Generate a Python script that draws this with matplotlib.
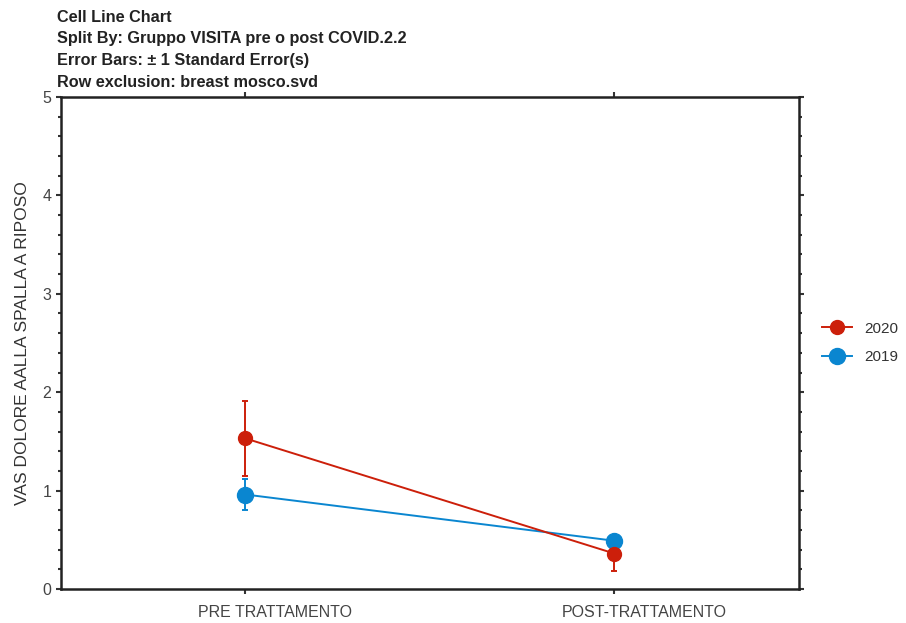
import matplotlib
matplotlib.use("Agg")
import matplotlib.pyplot as plt
from matplotlib.ticker import MultipleLocator
from matplotlib.lines import Line2D
from matplotlib.transforms import ScaledTranslation

plt.rcParams['font.family'] = ['Liberation Sans', 'DejaVu Sans']

categories = ["PRE TRATTAMENTO", "POST-TRATTAMENTO"]
groups = ["2020", "2019"]
means_2020 = [1.53, 0.36]
se_2020 = [0.38, 0.18]
means_2019 = [0.96, 0.49]
se_2019 = [0.16, 0.04]

colors = {"2020": "#cc1f0a", "2019": "#0a86d0"}
sizes = {"2020": 10, "2019": 11.5}

fig = plt.figure(figsize=(9.06, 6.23), dpi=100)
ax = fig.add_axes([0.0673, 0.0546, 0.8146, 0.7897])

xpos = [0.25, 0.75]
series = {"2020": (means_2020, se_2020), "2019": (means_2019, se_2019)}
# 2019 underneath, 2020 on top
for g in ["2019", "2020"]:
    m, s = series[g]
    ax.errorbar(xpos, m, yerr=s, color=colors[g], marker="o", markersize=sizes[g],
                linewidth=1.4, elinewidth=1.4, capsize=2.5, capthick=1.4)

ax.set_xlim(0, 1)
ax.set_ylim(0, 5)
ax.set_xticks(xpos)
ax.set_xticklabels(categories)
ax.yaxis.set_major_locator(MultipleLocator(1))
ax.yaxis.set_minor_locator(MultipleLocator(0.2))
ax.tick_params(axis="both", which="both", direction="out", colors="#333333",
               labelcolor="#444444", labelsize=11.5, top=True, right=True)
ax.tick_params(which="major", length=3.5, width=1.5)
ax.tick_params(which="minor", length=2, width=1.5)
ax.tick_params(axis="x", pad=8)
# category labels sit a little right of their tick in the original
for lab in ax.get_xticklabels():
    lab.set_transform(lab.get_transform() + ScaledTranslation(0.3, 0, fig.dpi_scale_trans))
for sp in ax.spines.values():
    sp.set_linewidth(1.8)
    sp.set_color("#222222")

ax.set_ylabel("VAS DOLORE AALLA SPALLA A RIPOSO", fontsize=12.5, color="#333333", labelpad=9)

handles = [Line2D([], [], color=colors[g], marker="o", markersize=sizes[g], linewidth=1.4)
           for g in groups]
ax.legend(handles, groups, loc="center left", bbox_to_anchor=(1.031, 0.5), frameon=False,
          fontsize=11, handlelength=2.0, labelspacing=0.95, labelcolor="#333333",
          borderaxespad=0, borderpad=0)

title_lines = ["Cell Line Chart", "Split By: Gruppo VISITA pre o post COVID.2.2",
               "Error Bars: \u00b1 1 Standard Error(s)", "Row exclusion: breast mosco.svd"]
for i, t in enumerate(title_lines):
    fig.text(57 / 906, 1 - (17 + 21.7 * i) / 623, t, fontsize=11.7, fontweight="bold",
             color="#222222", va="center", ha="left")

fig.savefig("out.png", dpi=100)
